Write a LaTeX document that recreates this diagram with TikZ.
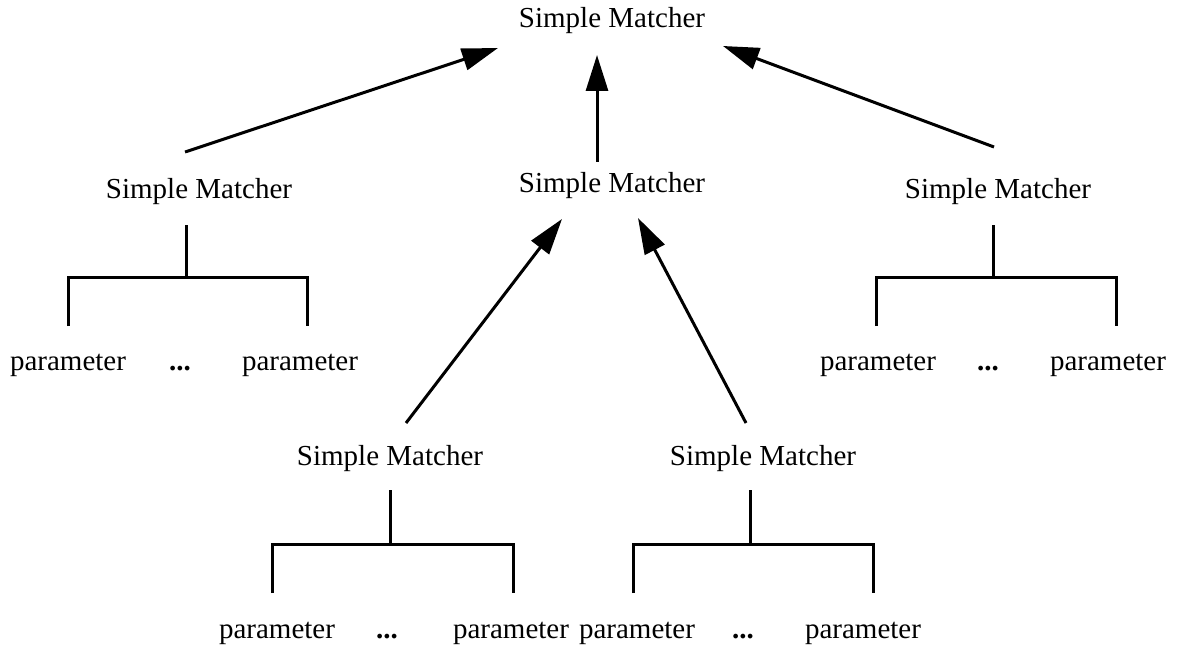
\documentclass[tikz,border=0pt]{standalone}
\usepackage{fontspec}
\setmainfont{Liberation Serif}
\usetikzlibrary{arrows.meta}
\tikzset{
  lbl/.style={anchor=base, inner sep=0pt, font=\fontsize{29}{34}\selectfont},
  dots/.style={lbl, font=\fontsize{29}{34}\selectfont\bfseries},
  link/.style={line width=3pt, -{Triangle[length=36pt,width=22pt]}},
  bar/.style={line width=3pt, line join=miter}
}
\begin{document}
\begin{tikzpicture}[x=1pt,y=-1pt]
  \useasboundingbox (0,0) rectangle (1177,647);

  % matchers
  \node[lbl] (top) at (612,28)  {Simple Matcher};
  \node[lbl] (ml)  at (199,198) {Simple Matcher};
  \node[lbl] (mc)  at (612,193) {Simple Matcher};
  \node[lbl] (mr)  at (998,198) {Simple Matcher};
  \node[lbl] (bl)  at (390,465) {Simple Matcher};
  \node[lbl] (br)  at (763,465) {Simple Matcher};

  % parameter rows
  \node[lbl]  (ml-p1) at (68,370)   {parameter};
  \node[dots] (ml-d)  at (180,370)  {...};
  \node[lbl]  (ml-p2) at (300,370)  {parameter};
  \node[lbl]  (mr-p1) at (878,370)  {parameter};
  \node[dots] (mr-d)  at (988,370)  {...};
  \node[lbl]  (mr-p2) at (1108,370) {parameter};
  \node[lbl]  (bl-p1) at (277,638)  {parameter};
  \node[dots] (bl-d)  at (387,638)  {...};
  \node[lbl]  (bl-p2) at (511,638)  {parameter};
  \node[lbl]  (br-p1) at (637,638)  {parameter};
  \node[dots] (br-d)  at (743,638)  {...};
  \node[lbl]  (br-p2) at (863,638)  {parameter};

  % arrow end points
  \coordinate (ml-out) at (185,152);
  \coordinate (top-l)  at (498,48);
  \coordinate (mc-out) at (597,162);
  \coordinate (top-c)  at (597,55);
  \coordinate (mr-out) at (994,147);
  \coordinate (top-r)  at (723,46);
  \coordinate (bl-out) at (406,423);
  \coordinate (mc-l)   at (562,219);
  \coordinate (br-out) at (746,423);
  \coordinate (mc-r)   at (638,218);

  \draw[link] (ml-out) -- (top-l);
  \draw[link] (mc-out) -- (top-c);
  \draw[link] (mr-out) -- (top-r);
  \draw[link] (bl-out) -- (mc-l);
  \draw[link] (br-out) -- (mc-r);

  % parameter brackets
  \coordinate (ml-s) at (186,225); \coordinate (ml-j) at (186,277);
  \coordinate (ml-a) at (68,326);  \coordinate (ml-b) at (307,326);
  \coordinate (mr-s) at (993,225); \coordinate (mr-j) at (993,277);
  \coordinate (mr-a) at (876,326); \coordinate (mr-b) at (1116,326);
  \coordinate (bl-s) at (390,490); \coordinate (bl-j) at (390,544);
  \coordinate (bl-a) at (272,593); \coordinate (bl-b) at (513,593);
  \coordinate (br-s) at (750,490); \coordinate (br-j) at (750,544);
  \coordinate (br-a) at (633,593); \coordinate (br-b) at (873,593);

  \foreach \t in {ml,mr,bl,br}{
    \draw[bar] (\t-s) -- (\t-j);
    \draw[bar] (\t-a) |- (\t-j) -| (\t-b);
  }
\end{tikzpicture}
\end{document}
